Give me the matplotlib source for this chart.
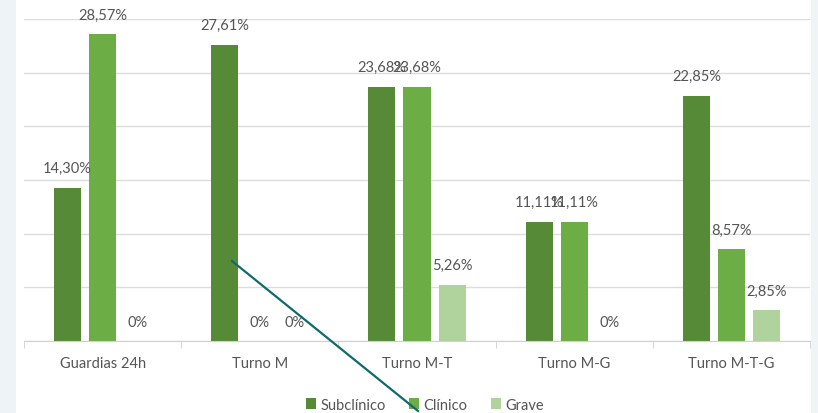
import numpy as np
import matplotlib.pyplot as plt
from matplotlib.patches import Rectangle
from matplotlib.lines import Line2D

categories = ["Guardias 24h", "Turno M", "Turno M-T", "Turno M-G", "Turno M-T-G"]
series = ["Subclínico", "Clínico", "Grave"]
subclinico = [14.30, 27.61, 23.68, 11.11, 22.85]
clinico = [28.57, 0.0, 23.68, 11.11, 8.57]
grave = [0.0, 0.0, 5.26, 0.0, 2.85]
labels_sub = ["14,30%", "27,61%", "23,68%", "11,11%", "22,85%"]
labels_cli = ["28,57%", "0%", "23,68%", "11,11%", "8,57%"]
labels_gra = ["0%", "0%", "5,26%", "0%", "2,85%"]

colors = ["#578a37", "#6cad46", "#b0d39e"]
txt_gray = "#555555"

plt.rcParams['font.family'] = ['Lato', 'DejaVu Sans']

fig = plt.figure(figsize=(8.18, 4.14), dpi=100)
fig.patch.set_facecolor("white")

# pale strips from the screenshot edges
fig.patches.append(Rectangle((0, 0), 16 / 818, 1, transform=fig.transFigure,
                             facecolor="#eef3f8", edgecolor="none", zorder=0))
fig.patches.append(Rectangle((811 / 818, 0), 7 / 818, 1, transform=fig.transFigure,
                             facecolor="#f1f4f7", edgecolor="none", zorder=0))

ax = fig.add_axes([24 / 818, 72 / 414, 786 / 818, 322 / 414])
ax.set_facecolor("none")

x = np.arange(len(categories))
w = 0.172
step = 0.223
data = [subclinico, clinico, grave]
labs = [labels_sub, labels_cli, labels_gra]
for i, (vals, lb) in enumerate(zip(data, labs)):
    pos = x + (i - 1) * step
    ax.bar(pos, vals, width=w, color=colors[i], label=series[i], zorder=2)
    for p, v, t in zip(pos, vals, lb):
        ax.annotate(t, (p, v), xytext=(0, 14), textcoords="offset points",
                    ha="center", va="center", fontsize=10.5, color=txt_gray, zorder=3)

ax.set_xlim(-0.5, len(categories) - 0.5)
ax.set_ylim(0, 30)
ax.set_yticks(np.arange(0, 31, 5))
ax.yaxis.grid(True, color="#dcdcdc", linewidth=1)
ax.set_axisbelow(True)
ax.tick_params(axis="y", left=False, labelleft=False)
for s in ["top", "right", "left"]:
    ax.spines[s].set_visible(False)
ax.spines["bottom"].set_color("#d0d0d0")

ax.set_xticks(x)
ax.set_xticklabels(categories, fontsize=10.5, color=txt_gray)
ax.tick_params(axis="x", length=0, pad=11)
ax.set_xticks(np.arange(-0.5, len(categories), 1), minor=True)
ax.tick_params(axis="x", which="minor", length=5, color="#d0d0d0")

leg = ax.legend(loc="upper center", bbox_to_anchor=(0.51, -0.135), ncol=3,
                frameon=False, fontsize=10.5, handlelength=0.7, handleheight=0.7,
                handletextpad=0.3, columnspacing=1.6)
for t in leg.get_texts():
    t.set_color(txt_gray)

# teal pointer line overlaid on the screenshot
fig.lines.append(Line2D([232 / 818, 418 / 818], [1 - 262 / 414, 1 - 412 / 414],
                        transform=fig.transFigure, color="#0f6b6b", linewidth=1.6, zorder=5))

fig.savefig("out.png", dpi=100)
